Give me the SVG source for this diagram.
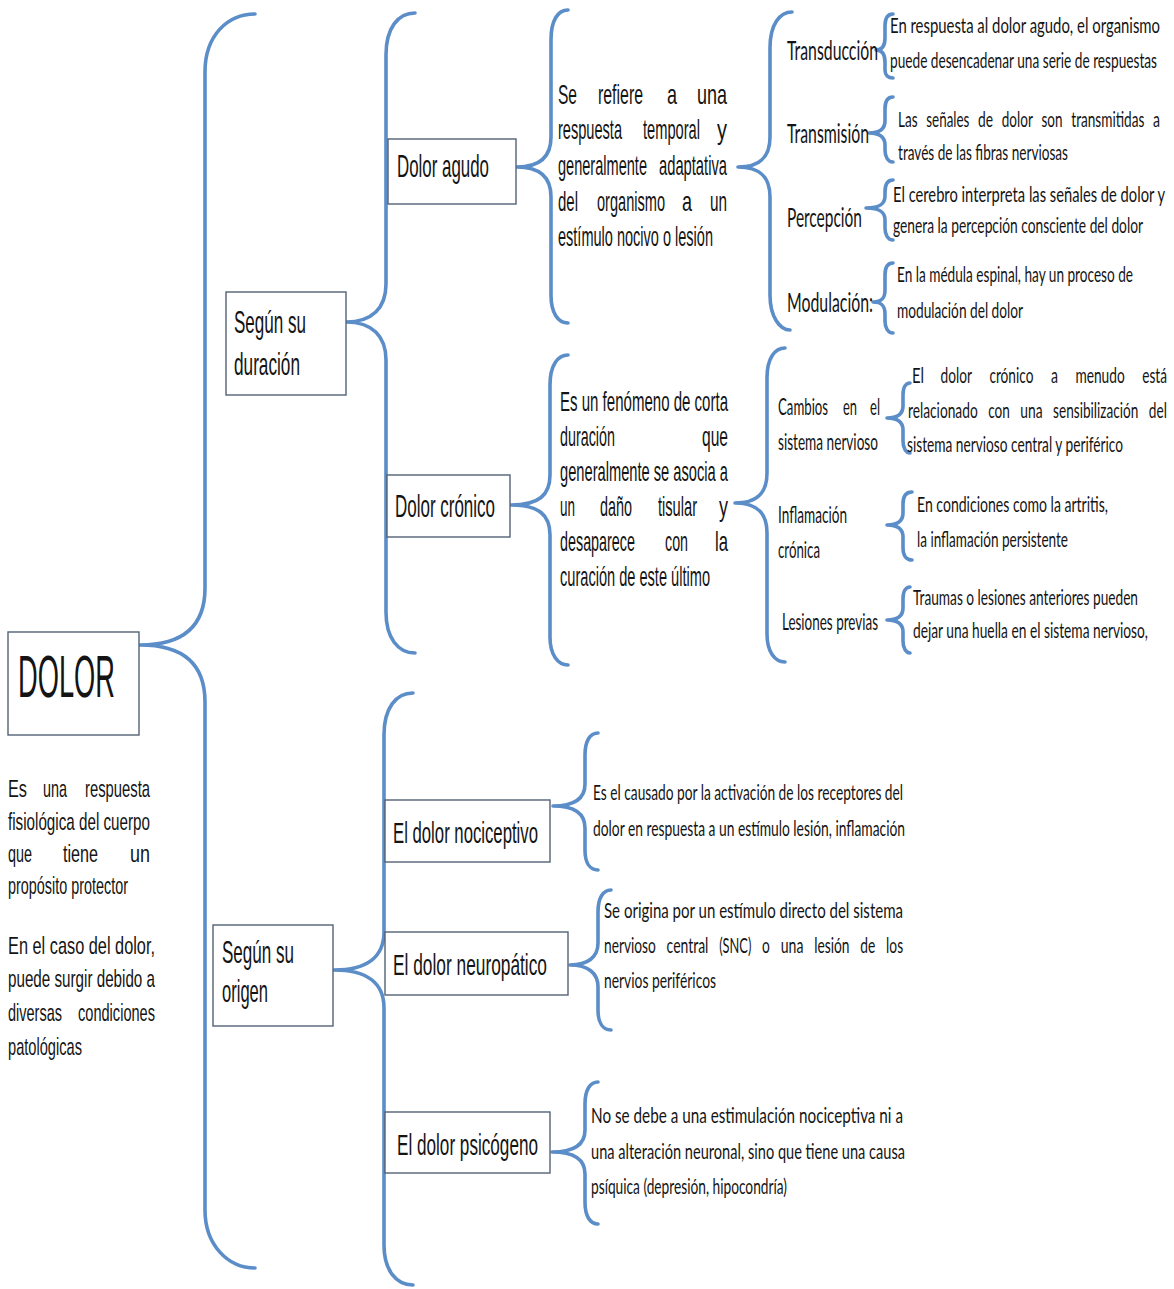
<svg xmlns="http://www.w3.org/2000/svg" width="1174" height="1289" viewBox="0 0 1174 1289">
<style>
.br{fill:none;stroke:#5b8dc8;stroke-width:3.6;stroke-linecap:round;stroke-linejoin:round}
.bx{fill:#fff;stroke:#536275;stroke-width:1.4}
.a{font-family:"Liberation Sans Narrow","Liberation Sans",Arial,sans-serif;fill:#141414}
.c{font-family:Lato,"Open Sans","Liberation Sans",sans-serif;fill:#141414}
</style>
<rect width="1174" height="1289" fill="#fff"/>
<g id="connectors">
<path class="br" d="M255,14 C228,14 205,35 205,72 L205,588 C205,625 185,645 140,645 C185,645 205,665 205,702 L205,1210 C205,1245 228,1268 255,1268"/>
<path class="br" d="M415,13 C398,13 386,28 386,55 L386,284 C386,308 372,322 346,322 C372,322 386,336 386,360 L386,612 C386,638 398,653 415,653"/>
<path class="br" d="M413,693 C396,693 384,708 384,735 L384,932 C384,956 368,970 334,970 C368,970 384,984 384,1008 L384,1245 C384,1270 396,1285 413,1285"/>
<path class="br" d="M568,10 C558,10 551,20 551,40 L551,137 C551,157 540,167 517,167 C540,167 551,177 551,197 L551,295 C551,313 558,323 568,323"/>
<path class="br" d="M792,12 C780,12 770,24 770,48 L770,137 C770,157 760,167 738,167 C760,167 770,177 770,197 L770,295 C770,317 780,330 790,330"/>
<path class="br" d="M568,355 C558,355 550,365 550,385 L550,475 C550,495 539,505 511,505 C539,505 550,515 550,535 L550,637 C550,655 558,665 568,665"/>
<path class="br" d="M785,348 C775,348 767,358 767,378 L767,473 C767,493 757,503 735,503 C757,503 767,513 767,533 L767,634 C767,652 775,662 785,662"/>
<path class="br" d="M893,14 C888,14 885,18 885,26 L885,38 C885,46 882,50 876,50 C882,50 885,54 885,62 L885,70 C885,75 888,78 893,78"/>
<path class="br" d="M893,97 C888,97 885,101 885,109 L885,121 C885,129 880,133 869,133 C880,133 885,137 885,145 L885,150 C885,157 888,162 893,162"/>
<path class="br" d="M893,180 C888,180 885,184 885,192 L885,196 C885,204 880,208 866,208 C880,208 885,212 885,220 L885,228 C885,235 888,240 893,240"/>
<path class="br" d="M893,263 C888,263 885,267 885,275 L885,290 C885,298 882,302 873,302 C882,302 885,306 885,314 L885,321 C885,328 888,333 893,333"/>
<path class="br" d="M910,383 C906,383 903,387 903,395 L903,406 C903,414 898,418 887,418 C898,418 903,422 903,430 L903,441 C903,448 906,453 910,453"/>
<path class="br" d="M912,492 C906,492 903,496 903,504 L903,513 C903,521 898,525 887,525 C898,525 903,529 903,537 L903,548 C903,555 906,560 912,560"/>
<path class="br" d="M910,587 C906,587 903,591 903,599 L903,608 C903,616 898,620 887,620 C898,620 903,624 903,632 L903,641 C903,648 906,653 910,653"/>
<path class="br" d="M598,733 C590,733 585,741 585,755 L585,784 C585,798 575,806 553,806 C575,806 585,814 585,828 L585,850 C585,863 590,870 598,870"/>
<path class="br" d="M611,890 C603,890 598,898 598,912 L598,943 C598,957 588,965 570,965 C588,965 598,973 598,987 L598,1010 C598,1023 603,1030 611,1030"/>
<path class="br" d="M598,1082 C590,1082 585,1090 585,1104 L585,1130 C585,1144 575,1152 552,1152 C575,1152 585,1160 585,1174 L585,1202 C585,1216 590,1224 598,1224"/>
</g>
<g id="dolor">
<rect class="bx" x="8" y="632" width="131" height="103"/>
<text class="a" font-size="27" transform="translate(18 697) scale(1 2.222)" textLength="97" lengthAdjust="spacingAndGlyphs">DOLOR</text>
</g>
<g id="dolor-definicion" class="a" font-size="13.2">
<text transform="translate(8 797) scale(1 1.818)" textLength="19" lengthAdjust="spacingAndGlyphs">Es</text>
<text transform="translate(43 797) scale(1 1.818)" textLength="24" lengthAdjust="spacingAndGlyphs">una</text>
<text transform="translate(85 797) scale(1 1.818)" textLength="65" lengthAdjust="spacingAndGlyphs">respuesta</text>
<text transform="translate(8 830) scale(1 1.818)" textLength="142" lengthAdjust="spacingAndGlyphs">fisiológica del cuerpo</text>
<text transform="translate(8 862) scale(1 1.818)" textLength="24" lengthAdjust="spacingAndGlyphs">que</text>
<text transform="translate(63 862) scale(1 1.818)" textLength="35" lengthAdjust="spacingAndGlyphs">tiene</text>
<text transform="translate(130 862) scale(1 1.818)" textLength="20" lengthAdjust="spacingAndGlyphs">un</text>
<text transform="translate(8 894) scale(1 1.818)" textLength="120" lengthAdjust="spacingAndGlyphs">propósito protector</text>
<text transform="translate(8 954) scale(1 1.818)" textLength="147" lengthAdjust="spacingAndGlyphs">En el caso del dolor,</text>
<text transform="translate(8 987) scale(1 1.818)" textLength="147" lengthAdjust="spacingAndGlyphs">puede surgir debido a</text>
<text transform="translate(8 1021) scale(1 1.818)" textLength="54" lengthAdjust="spacingAndGlyphs">diversas</text>
<text transform="translate(78 1021) scale(1 1.818)" textLength="77" lengthAdjust="spacingAndGlyphs">condiciones</text>
<text transform="translate(8 1055) scale(1 1.818)" textLength="74" lengthAdjust="spacingAndGlyphs">patológicas</text>
</g>
<g id="segun-duracion">
<rect class="bx" x="226" y="292" width="120" height="103"/>
<text class="a" font-size="17" transform="translate(234 333) scale(1 1.818)" textLength="72" lengthAdjust="spacingAndGlyphs">Según su</text>
<text class="a" font-size="17" transform="translate(234 375) scale(1 1.818)" textLength="66" lengthAdjust="spacingAndGlyphs">duración</text>
</g>
<g id="segun-origen">
<rect class="bx" x="213" y="925" width="120" height="101"/>
<text class="a" font-size="17" transform="translate(222 963) scale(1 1.818)" textLength="72" lengthAdjust="spacingAndGlyphs">Según su</text>
<text class="a" font-size="17" transform="translate(222 1002) scale(1 1.818)" textLength="46" lengthAdjust="spacingAndGlyphs">origen</text>
</g>
<g id="dolor-agudo">
<rect class="bx" x="388" y="139" width="128" height="65"/>
<text class="a" font-size="17" transform="translate(397 177) scale(1 1.818)" textLength="92" lengthAdjust="spacingAndGlyphs">Dolor agudo</text>
</g>
<g id="dolor-cronico">
<rect class="bx" x="387" y="475" width="123" height="62"/>
<text class="a" font-size="17" transform="translate(395 517) scale(1 1.818)" textLength="100" lengthAdjust="spacingAndGlyphs">Dolor crónico</text>
</g>
<g id="agudo-definicion" class="a" font-size="14.85">
<text transform="translate(558 104) scale(1 1.818)" textLength="19" lengthAdjust="spacingAndGlyphs">Se</text>
<text transform="translate(598 104) scale(1 1.818)" textLength="45" lengthAdjust="spacingAndGlyphs">refiere</text>
<text transform="translate(667 104) scale(1 1.818)" textLength="10" lengthAdjust="spacingAndGlyphs">a</text>
<text transform="translate(697 104) scale(1 1.818)" textLength="30" lengthAdjust="spacingAndGlyphs">una</text>
<text transform="translate(558 139) scale(1 1.818)" textLength="64" lengthAdjust="spacingAndGlyphs">respuesta</text>
<text transform="translate(643 139) scale(1 1.818)" textLength="57" lengthAdjust="spacingAndGlyphs">temporal</text>
<text transform="translate(717 139) scale(1 1.818)" textLength="10" lengthAdjust="spacingAndGlyphs">y</text>
<text transform="translate(558 175) scale(1 1.818)" textLength="89" lengthAdjust="spacingAndGlyphs">generalmente</text>
<text transform="translate(659 175) scale(1 1.818)" textLength="68" lengthAdjust="spacingAndGlyphs">adaptativa</text>
<text transform="translate(558 211) scale(1 1.818)" textLength="20" lengthAdjust="spacingAndGlyphs">del</text>
<text transform="translate(597 211) scale(1 1.818)" textLength="68" lengthAdjust="spacingAndGlyphs">organismo</text>
<text transform="translate(682 211) scale(1 1.818)" textLength="10" lengthAdjust="spacingAndGlyphs">a</text>
<text transform="translate(710 211) scale(1 1.818)" textLength="17" lengthAdjust="spacingAndGlyphs">un</text>
<text transform="translate(558 246) scale(1 1.818)" textLength="155" lengthAdjust="spacingAndGlyphs">estímulo nocivo o lesión</text>
</g>
<g id="cronico-definicion" class="a" font-size="14.85">
<text transform="translate(560 411) scale(1 1.818)" textLength="168" lengthAdjust="spacingAndGlyphs">Es un fenómeno de corta</text>
<text transform="translate(560 446) scale(1 1.818)" textLength="55" lengthAdjust="spacingAndGlyphs">duración</text>
<text transform="translate(702 446) scale(1 1.818)" textLength="26" lengthAdjust="spacingAndGlyphs">que</text>
<text transform="translate(560 481) scale(1 1.818)" textLength="168" lengthAdjust="spacingAndGlyphs">generalmente se asocia a</text>
<text transform="translate(560 516) scale(1 1.818)" textLength="15" lengthAdjust="spacingAndGlyphs">un</text>
<text transform="translate(600 516) scale(1 1.818)" textLength="32" lengthAdjust="spacingAndGlyphs">daño</text>
<text transform="translate(658 516) scale(1 1.818)" textLength="39" lengthAdjust="spacingAndGlyphs">tisular</text>
<text transform="translate(719 516) scale(1 1.818)" textLength="9" lengthAdjust="spacingAndGlyphs">y</text>
<text transform="translate(560 551) scale(1 1.818)" textLength="75" lengthAdjust="spacingAndGlyphs">desaparece</text>
<text transform="translate(665 551) scale(1 1.818)" textLength="23" lengthAdjust="spacingAndGlyphs">con</text>
<text transform="translate(715 551) scale(1 1.818)" textLength="13" lengthAdjust="spacingAndGlyphs">la</text>
<text transform="translate(560 586) scale(1 1.818)" textLength="150" lengthAdjust="spacingAndGlyphs">curación de este último</text>
</g>
<g id="transduccion" class="c" font-size="12.54">
<text font-size="15.39" transform="translate(787 60) scale(1 1.754)" textLength="91" lengthAdjust="spacingAndGlyphs">Transducción</text>
<text transform="translate(890 33) scale(1 1.754)" textLength="270" lengthAdjust="spacingAndGlyphs">En respuesta al dolor agudo, el organismo</text>
<text transform="translate(890 68) scale(1 1.754)" textLength="267" lengthAdjust="spacingAndGlyphs">puede desencadenar una serie de respuestas</text>
</g>
<g id="transmision" class="c" font-size="12.54">
<text font-size="15.39" transform="translate(787 143) scale(1 1.754)" textLength="82" lengthAdjust="spacingAndGlyphs">Transmisión</text>
<text transform="translate(898 127) scale(1 1.754)" textLength="19.5" lengthAdjust="spacingAndGlyphs">Las</text>
<text transform="translate(926.3 127) scale(1 1.754)" textLength="43" lengthAdjust="spacingAndGlyphs">señales</text>
<text transform="translate(978 127) scale(1 1.754)" textLength="15" lengthAdjust="spacingAndGlyphs">de</text>
<text transform="translate(1001.8 127) scale(1 1.754)" textLength="31" lengthAdjust="spacingAndGlyphs">dolor</text>
<text transform="translate(1041.5 127) scale(1 1.754)" textLength="21" lengthAdjust="spacingAndGlyphs">son</text>
<text transform="translate(1071.3 127) scale(1 1.754)" textLength="73" lengthAdjust="spacingAndGlyphs">transmitidas</text>
<text transform="translate(1153 127) scale(1 1.754)" textLength="7" lengthAdjust="spacingAndGlyphs">a</text>
<text transform="translate(898 160) scale(1 1.754)" textLength="170" lengthAdjust="spacingAndGlyphs">través de las fibras nerviosas</text>
</g>
<g id="percepcion" class="c" font-size="12.54">
<text font-size="15.39" transform="translate(787 227) scale(1 1.754)" textLength="75" lengthAdjust="spacingAndGlyphs">Percepción</text>
<text transform="translate(893 202) scale(1 1.754)" textLength="272" lengthAdjust="spacingAndGlyphs">El cerebro interpreta las señales de dolor y</text>
<text transform="translate(893 233) scale(1 1.754)" textLength="250" lengthAdjust="spacingAndGlyphs">genera la percepción consciente del dolor</text>
</g>
<g id="modulacion" class="c" font-size="12.54">
<text font-size="15.39" transform="translate(787 312) scale(1 1.754)" textLength="86" lengthAdjust="spacingAndGlyphs">Modulación:</text>
<text transform="translate(897 282) scale(1 1.754)" textLength="236" lengthAdjust="spacingAndGlyphs">En la médula espinal, hay un proceso de</text>
<text transform="translate(897 318) scale(1 1.754)" textLength="126" lengthAdjust="spacingAndGlyphs">modulación del dolor</text>
</g>
<g id="cambios" class="c" font-size="12.54">
<text font-size="13.11" transform="translate(778 415) scale(1 1.754)" textLength="50" lengthAdjust="spacingAndGlyphs">Cambios</text>
<text font-size="13.11" transform="translate(843 415) scale(1 1.754)" textLength="14" lengthAdjust="spacingAndGlyphs">en</text>
<text font-size="13.11" transform="translate(870 415) scale(1 1.754)" textLength="10" lengthAdjust="spacingAndGlyphs">el</text>
<text font-size="13.11" transform="translate(778 450) scale(1 1.754)" textLength="100" lengthAdjust="spacingAndGlyphs">sistema nervioso</text>
<text transform="translate(912 383) scale(1 1.754)" textLength="12" lengthAdjust="spacingAndGlyphs">El</text>
<text transform="translate(940.5 383) scale(1 1.754)" textLength="31.4" lengthAdjust="spacingAndGlyphs">dolor</text>
<text transform="translate(989.4 383) scale(1 1.754)" textLength="44" lengthAdjust="spacingAndGlyphs">crónico</text>
<text transform="translate(1050.9 383) scale(1 1.754)" textLength="7" lengthAdjust="spacingAndGlyphs">a</text>
<text transform="translate(1075.4 383) scale(1 1.754)" textLength="49.3" lengthAdjust="spacingAndGlyphs">menudo</text>
<text transform="translate(1142.2 383) scale(1 1.754)" textLength="24.7" lengthAdjust="spacingAndGlyphs">está</text>
<text transform="translate(908 418) scale(1 1.754)" textLength="69.7" lengthAdjust="spacingAndGlyphs">relacionado</text>
<text transform="translate(988.2 418) scale(1 1.754)" textLength="21.6" lengthAdjust="spacingAndGlyphs">con</text>
<text transform="translate(1020.3 418) scale(1 1.754)" textLength="22.3" lengthAdjust="spacingAndGlyphs">una</text>
<text transform="translate(1053.1 418) scale(1 1.754)" textLength="85.2" lengthAdjust="spacingAndGlyphs">sensibilización</text>
<text transform="translate(1148.8 418) scale(1 1.754)" textLength="18.1" lengthAdjust="spacingAndGlyphs">del</text>
<text transform="translate(907 452) scale(1 1.754)" textLength="216" lengthAdjust="spacingAndGlyphs">sistema nervioso central y periférico</text>
</g>
<g id="inflamacion" class="c" font-size="12.54">
<text font-size="13.11" transform="translate(778 523) scale(1 1.754)" textLength="69" lengthAdjust="spacingAndGlyphs">Inflamación</text>
<text font-size="13.11" transform="translate(778 558) scale(1 1.754)" textLength="42" lengthAdjust="spacingAndGlyphs">crónica</text>
<text transform="translate(917 512) scale(1 1.754)" textLength="191" lengthAdjust="spacingAndGlyphs">En condiciones como la artritis,</text>
<text transform="translate(917 547) scale(1 1.754)" textLength="151" lengthAdjust="spacingAndGlyphs">la inflamación persistente</text>
</g>
<g id="lesiones" class="c" font-size="12.54">
<text font-size="13.11" transform="translate(782 630) scale(1 1.754)" textLength="96" lengthAdjust="spacingAndGlyphs">Lesiones previas</text>
<text transform="translate(913 605) scale(1 1.754)" textLength="225" lengthAdjust="spacingAndGlyphs">Traumas o lesiones anteriores pueden</text>
<text transform="translate(913 638) scale(1 1.754)" textLength="235" lengthAdjust="spacingAndGlyphs">dejar una huella en el sistema nervioso,</text>
</g>
<g id="nociceptivo">
<rect class="bx" x="385" y="800" width="165" height="62"/>
<text class="a" font-size="16.5" transform="translate(393 843) scale(1 1.818)" textLength="145" lengthAdjust="spacingAndGlyphs">El dolor nociceptivo</text>
<g class="c" font-size="12.54">
<text transform="translate(593 800) scale(1 1.754)" textLength="310" lengthAdjust="spacingAndGlyphs">Es el causado por la activación de los receptores del</text>
<text transform="translate(593 836) scale(1 1.754)" textLength="312" lengthAdjust="spacingAndGlyphs">dolor en respuesta a un estímulo lesión, inflamación</text>
</g>
</g>
<g id="neuropatico">
<rect class="bx" x="385" y="932" width="183" height="63"/>
<text class="a" font-size="16.5" transform="translate(393 975) scale(1 1.818)" textLength="154" lengthAdjust="spacingAndGlyphs">El dolor neuropático</text>
<g class="c" font-size="12.54">
<text transform="translate(604 918) scale(1 1.754)" textLength="299" lengthAdjust="spacingAndGlyphs">Se origina por un estímulo directo del sistema</text>
<text transform="translate(604 953) scale(1 1.754)" textLength="51.8" lengthAdjust="spacingAndGlyphs">nervioso</text>
<text transform="translate(666.6 953) scale(1 1.754)" textLength="41.8" lengthAdjust="spacingAndGlyphs">central</text>
<text transform="translate(719.2 953) scale(1 1.754)" textLength="32.1" lengthAdjust="spacingAndGlyphs">(SNC)</text>
<text transform="translate(762.1 953) scale(1 1.754)" textLength="7.8" lengthAdjust="spacingAndGlyphs">o</text>
<text transform="translate(780.7 953) scale(1 1.754)" textLength="22.7" lengthAdjust="spacingAndGlyphs">una</text>
<text transform="translate(814.2 953) scale(1 1.754)" textLength="35.3" lengthAdjust="spacingAndGlyphs">lesión</text>
<text transform="translate(860.3 953) scale(1 1.754)" textLength="15" lengthAdjust="spacingAndGlyphs">de</text>
<text transform="translate(886.1 953) scale(1 1.754)" textLength="17" lengthAdjust="spacingAndGlyphs">los</text>
<text transform="translate(604 988) scale(1 1.754)" textLength="112" lengthAdjust="spacingAndGlyphs">nervios periféricos</text>
</g>
</g>
<g id="psicogeno">
<rect class="bx" x="385" y="1112" width="165" height="61"/>
<text class="a" font-size="16.5" transform="translate(397 1155) scale(1 1.818)" textLength="141" lengthAdjust="spacingAndGlyphs">El dolor psicógeno</text>
<g class="c" font-size="12.54">
<text transform="translate(591 1123) scale(1 1.754)" textLength="312" lengthAdjust="spacingAndGlyphs">No se debe a una estimulación nociceptiva ni a</text>
<text transform="translate(591 1159) scale(1 1.754)" textLength="314" lengthAdjust="spacingAndGlyphs">una alteración neuronal, sino que tiene una causa</text>
<text transform="translate(591 1194) scale(1 1.754)" textLength="196" lengthAdjust="spacingAndGlyphs">psíquica (depresión, hipocondría)</text>
</g>
</g>
</svg>
